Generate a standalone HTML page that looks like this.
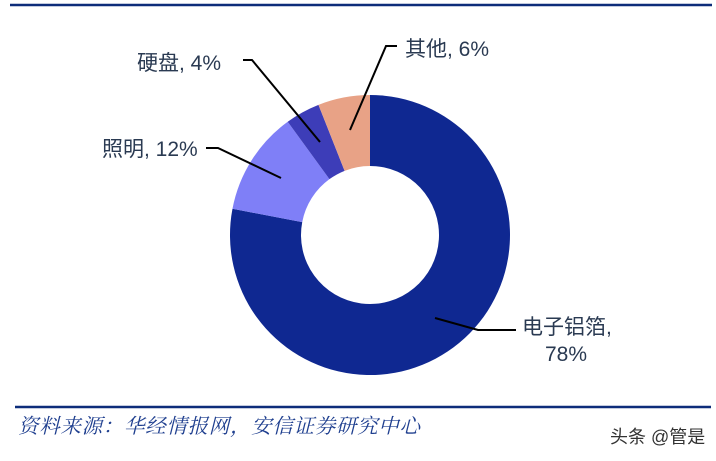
<!DOCTYPE html>
<html><head><meta charset="utf-8"><style>
body{margin:0;background:#fff;width:716px;height:456px;overflow:hidden;font-family:"Liberation Sans","Noto Sans CJK SC",sans-serif}
</style></head><body>
<svg id="c" width="716" height="456">
<line x1="10" y1="5" x2="712" y2="5" stroke="#0d2d7a" stroke-width="2.5"/>
<line x1="15" y1="407" x2="711" y2="407" stroke="#0d2d7a" stroke-width="2.5"/>
<g id="slices"></g>
<g id="labels" fill="#2a3a52" font-size="21"></g>
<text x="18" y="433" fill="#1f3f8f" font-size="20.5" font-style="italic" font-family="'Noto Serif CJK SC',serif" textLength="402">资料来源：华经情报网，安信证券研究中心</text>
<text x="610" y="443" fill="#333" font-size="18">头条 @管是</text>
</svg>
<script>
const categories=["电子铝箔","照明","硬盘","其他"];
const values=[78,12,4,6];
const colors=["#0f2891","#7f7ff7","#3d3db8","#e8a286"];
const cx=370,cy=235,R=140,r=69;
const ns="http://www.w3.org/2000/svg";
const g=document.getElementById('slices');
const total=values.reduce((a,b)=>a+b,0);
function pt(a,rad){return [cx+rad*Math.sin(a),cy-rad*Math.cos(a)];}
let a0=0;
values.forEach((v,i)=>{
 const a1=a0+v/total*2*Math.PI;const large=(a1-a0)>Math.PI?1:0;
 const p1=pt(a0,R),p2=pt(a1,R),p3=pt(a1,r),p4=pt(a0,r);
 const p=document.createElementNS(ns,'path');
 p.setAttribute('d',`M${p1}A${R},${R} 0 ${large} 1 ${p2}L${p3}A${r},${r} 0 ${large} 0 ${p4}Z`);
 p.setAttribute('fill',colors[i]);
 
 
 g.appendChild(p);a0=a1;
});
const lab=document.getElementById('labels');
const leaders=[
 {pts:"435,318 478,330 516,330",tx:[[522,334,categories[0]+","],[545,361,values[0]+"%"]]},
 {pts:"281,178 218,148 206,148",tx:[[102,156,categories[1]+", "+values[1]+"%"]]},
 {pts:"320,142 252,60 243,60",tx:[[137,70,categories[2]+", "+values[2]+"%"]]},
 {pts:"350,130 386,46 397,46",tx:[[405,56,categories[3]+", "+values[3]+"%"]]}
];
leaders.forEach((l,i)=>{
 const pl=document.createElementNS(ns,'polyline');
 pl.setAttribute('points',l.pts);pl.setAttribute('fill','none');pl.setAttribute('stroke','#000');pl.setAttribute('stroke-width','2');
 
 
 lab.appendChild(pl);
 l.tx.forEach(t=>{const e=document.createElementNS(ns,'text');e.setAttribute('x',t[0]);e.setAttribute('y',t[1]);e.textContent=t[2];
 
 
 lab.appendChild(e);});
});
</script>
</body></html>
